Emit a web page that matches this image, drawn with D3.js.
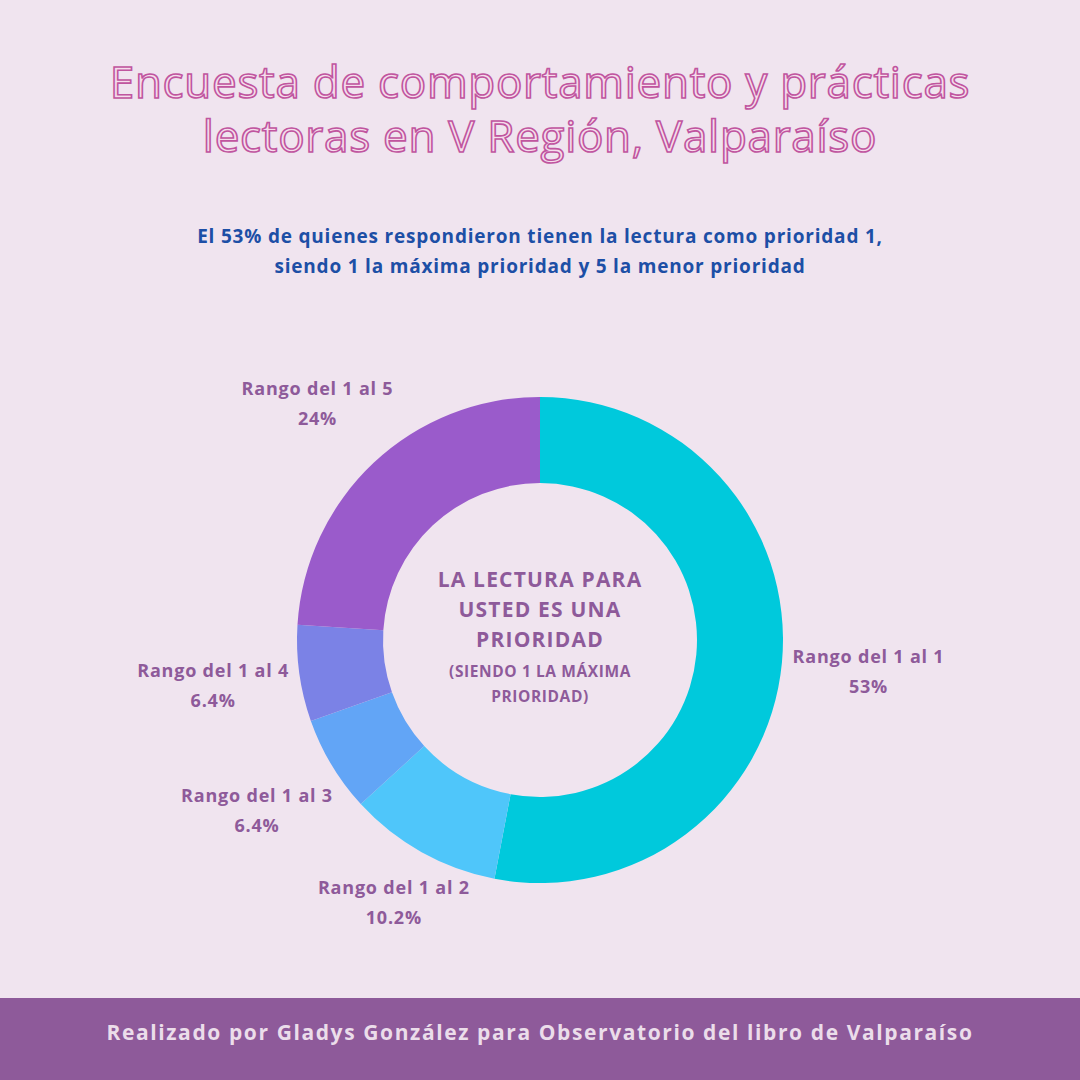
<!DOCTYPE html>
<html><head><meta charset="utf-8">
<script src="https://cdn.jsdelivr.net/npm/d3@7"></script>
<style>body{margin:0;background:#F0E4EF}</style></head>
<body><svg id="c" width="1080" height="1080"></svg>
<script>
const categories = ["Rango del 1 al 1","Rango del 1 al 2","Rango del 1 al 3","Rango del 1 al 4","Rango del 1 al 5"];
const values = [53, 10.2, 6.4, 6.4, 24];
const valueLabels = ["53%","10.2%","6.4%","6.4%","24%"];
const colors = ["#00C9DC","#4FC6FA","#62A5F6","#7B82E6","#9A5BCB"];
const F = "Open Sans";

const svg = d3.select("#c");
svg.append("rect").attr("width",1080).attr("height",1080).attr("fill","#F0E4EF");
svg.append("rect").attr("y",998).attr("width",1080).attr("height",82).attr("fill","#8E5A9A");
svg.append("text").attr("x",540).attr("y",1034).attr("text-anchor","middle").attr("dominant-baseline","middle")
  .attr("font-family",F).attr("font-weight","bold").attr("font-size",21).attr("letter-spacing",1.6).attr("fill","#EBDDEA")
  .text("Realizado por Gladys González para Observatorio del libro de Valparaíso");

["Encuesta de comportamiento y prácticas","lectoras en V Región, Valparaíso"].forEach((t,i)=>{
  svg.append("text").attr("x",540).attr("y",98+i*54).attr("text-anchor","middle")
   .attr("font-family",F).attr("font-size",44).attr("letter-spacing",0.7).attr("fill","#F6DDEC")
   .attr("stroke","#C0559F").attr("stroke-width",1.6).text(t);
});
["El 53% de quienes respondieron tienen la lectura como prioridad 1,","siendo 1 la máxima prioridad y 5 la menor prioridad"].forEach((t,i)=>{
  svg.append("text").attr("x",540).attr("y",243+i*30).attr("text-anchor","middle")
   .attr("font-family",F).attr("font-weight","bold").attr("font-size",19).attr("letter-spacing",0.8).attr("fill","#1D4FA6").text(t);
});

const cx=540, cy=640, R=243, r0=157;
const pie = d3.pie().sort(null).value(d=>d)(values);
const arc = d3.arc().innerRadius(r0).outerRadius(R);
const g = svg.append("g").attr("transform",`translate(${cx},${cy})`);
g.selectAll("path").data(pie).join("path").attr("d",arc).attr("fill",(d,i)=>colors[i]);

const lr = [330,300,330,330,325];
pie.forEach((d,i)=>{
  const a=(d.startAngle+d.endAngle)/2;
  const x=Math.sin(a)*lr[i], y=-Math.cos(a)*lr[i];
  const t=g.append("text").attr("text-anchor","middle").attr("font-family",F).attr("font-weight","bold")
    .attr("font-size",18).attr("letter-spacing",0.8).attr("fill","#8E5A9A");
  t.append("tspan").attr("x",x).attr("y",y-8).text(categories[i]);
  t.append("tspan").attr("x",x).attr("y",y+22).text(valueLabels[i]);
});
["LA LECTURA PARA","USTED ES UNA","PRIORIDAD"].forEach((t,i)=>{
  svg.append("text").attr("x",cx).attr("y",587+i*30).attr("text-anchor","middle").attr("font-family",F)
   .attr("font-weight","bold").attr("font-size",21).attr("letter-spacing",1.2).attr("fill","#8E5A9A").text(t);
});
["(SIENDO 1 LA MÁXIMA","PRIORIDAD)"].forEach((t,i)=>{
  svg.append("text").attr("x",cx).attr("y",677+i*25).attr("text-anchor","middle").attr("font-family",F)
   .attr("font-weight","bold").attr("font-size",15.5).attr("letter-spacing",0.6).attr("fill","#8E5A9A").text(t);
});
</script></body></html>
